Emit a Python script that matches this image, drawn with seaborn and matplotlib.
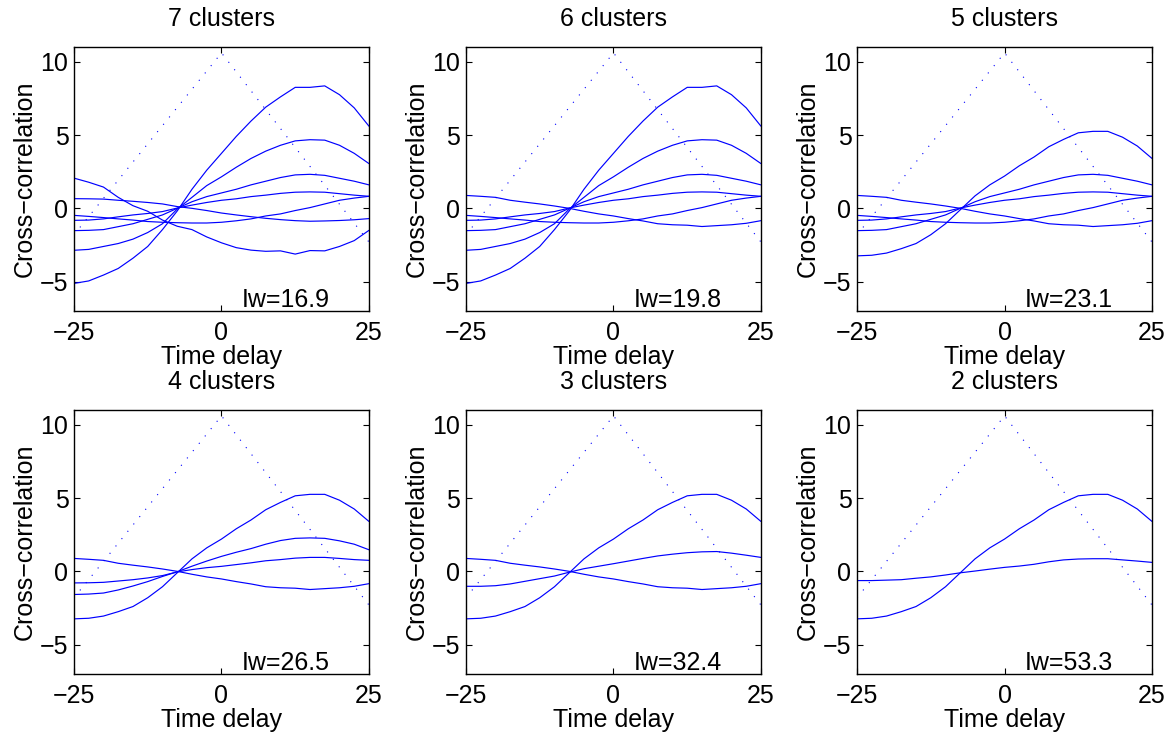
import matplotlib
matplotlib.use('Agg')
import numpy as np
import pandas as pd
import seaborn as sns
import matplotlib.pyplot as plt

# time delay grid shared by all curves
delay = [-25, -22.5, -20, -17.5, -15, -12.5, -10, -7.5, -5, -2.5, 0,
         2.5, 5, 7.5, 10, 12.5, 15, 17.5, 20, 22.5, 25]

# cluster mean cross-correlations
curve_a = [-5.12, -4.95, -4.55, -4.1, -3.4, -2.6, -1.45, -0.18, 1.3, 2.6, 3.75,
           4.9, 5.95, 6.9, 7.6, 8.25, 8.25, 8.35, 7.75, 6.85, 5.6]
curve_b = [-2.86, -2.8, -2.6, -2.4, -2.1, -1.65, -1.05, -0.05, 0.75, 1.55, 2.15,
           2.8, 3.4, 3.9, 4.3, 4.6, 4.68, 4.65, 4.3, 3.75, 3.05]
curve_c = [-1.52, -1.5, -1.45, -1.25, -1.05, -0.75, -0.45, 0.0, 0.45, 0.8, 1.05,
           1.3, 1.6, 1.85, 2.1, 2.28, 2.32, 2.25, 2.05, 1.85, 1.6]
curve_d = [-0.82, -0.8, -0.72, -0.58, -0.45, -0.35, -0.22, 0.02, 0.22, 0.4, 0.55,
           0.65, 0.8, 0.9, 1.02, 1.1, 1.12, 1.1, 1.0, 0.9, 0.82]
curve_e = [-0.48, -0.55, -0.63, -0.72, -0.8, -0.9, -0.95, -0.98, -1.0, -1.0, -0.95,
           -0.85, -0.72, -0.52, -0.38, -0.15, 0.05, 0.3, 0.55, 0.7, 0.82]
curve_f = [2.06, 1.78, 1.45, 0.75, 0.18, -0.2, -0.8, -1.22, -1.45, -1.95, -2.35,
           -2.68, -2.85, -2.93, -2.9, -3.12, -2.88, -2.9, -2.6, -2.2, -1.5]
curve_g7 = [0.66, 0.65, 0.63, 0.55, 0.48, 0.4, 0.3, 0.12, 0.0, -0.15, -0.32,
            -0.45, -0.57, -0.68, -0.77, -0.84, -0.88, -0.86, -0.83, -0.78, -0.7]
curve_g = [0.88, 0.82, 0.75, 0.55, 0.42, 0.3, 0.16, 0.0, -0.2, -0.38, -0.52,
           -0.7, -0.86, -1.05, -1.12, -1.15, -1.24, -1.18, -1.12, -1.02, -0.84]
curve_h = [-3.24, -3.2, -3.05, -2.75, -2.4, -1.8, -1.05, -0.1, 0.85, 1.6, 2.2,
           2.9, 3.5, 4.2, 4.7, 5.15, 5.25, 5.25, 4.85, 4.25, 3.4]
curve_c4 = [-1.58, -1.55, -1.48, -1.27, -1.0, -0.7, -0.35, -0.03, 0.35, 0.7, 1.02,
            1.3, 1.55, 1.85, 2.1, 2.25, 2.28, 2.25, 2.08, 1.85, 1.47]
curve_d4 = [-0.79, -0.78, -0.75, -0.66, -0.57, -0.45, -0.29, -0.04, 0.12, 0.25, 0.34,
            0.46, 0.58, 0.72, 0.8, 0.9, 0.95, 0.95, 0.88, 0.8, 0.75]
curve_i = [-1.02, -1.02, -0.98, -0.86, -0.68, -0.5, -0.32, -0.06, 0.18, 0.35, 0.52,
           0.7, 0.88, 1.05, 1.17, 1.27, 1.33, 1.35, 1.24, 1.1, 0.95]
curve_j = [-0.63, -0.63, -0.6, -0.57, -0.47, -0.38, -0.25, -0.1, 0.02, 0.15, 0.27,
           0.36, 0.48, 0.65, 0.78, 0.84, 0.86, 0.86, 0.78, 0.7, 0.61]

# dotted reference triangle
ref_x = [-25, 0, 25]
ref_y = [-1.8, 10.6, -2.3]

titles = ['7 clusters', '6 clusters', '5 clusters', '4 clusters', '3 clusters', '2 clusters']
iw_values = [16.9, 19.8, 23.1, 26.5, 32.4, 53.3]
panel_curves = [
    [curve_a, curve_b, curve_c, curve_d, curve_e, curve_f, curve_g7],
    [curve_a, curve_b, curve_c, curve_d, curve_e, curve_g],
    [curve_h, curve_c, curve_d, curve_e, curve_g],
    [curve_g, curve_h, curve_c4, curve_d4],
    [curve_g, curve_h, curve_i],
    [curve_h, curve_j],
]

sns.set_theme(style='ticks')
plt.rcParams['font.family'] = ['Liberation Sans', 'DejaVu Sans']
plt.rcParams['text.color'] = 'black'
plt.rcParams['axes.labelcolor'] = 'black'
fs = 18

fig = plt.figure(figsize=(11.74, 7.44), dpi=100)
lefts = [0.063, 0.3969, 0.730]
bottoms = [0.582, 0.0941]
w, h = 0.2513, 0.3548

for k in range(6):
    ax = fig.add_axes([lefts[k % 3], bottoms[k // 3], w, h])
    rows = []
    for j, c in enumerate(panel_curves[k]):
        rows += [(x, y, j) for x, y in zip(delay, c)]
    df = pd.DataFrame(rows, columns=['delay', 'xcorr', 'cluster'])
    ref = pd.DataFrame({'delay': ref_x, 'xcorr': ref_y})

    sns.lineplot(data=ref, x='delay', y='xcorr', ax=ax, color='blue',
                 lw=0.8, linestyle=(0, (1, 7.5)), legend=False)
    sns.lineplot(data=df, x='delay', y='xcorr', units='cluster', estimator=None,
                 ax=ax, color='blue', lw=0.85, legend=False)

    ax.set_xlim(-25, 25)
    ax.set_ylim(-7, 11)
    ax.set_xticks([-25, 0, 25])
    ax.set_yticks([-5, 0, 5, 10])
    ax.tick_params(direction='in', length=4, width=0.8, top=True, right=True,
                   labelsize=fs, colors='black')
    ax.tick_params(axis='x', pad=7.5)
    ax.tick_params(axis='y', pad=4)
    for s in ax.spines.values():
        s.set_linewidth(1.0)
        s.set_color('black')
    ax.set_xlabel('Time delay', fontsize=fs, labelpad=0, color='black')
    ax.set_ylabel('Cross\u2212correlation', fontsize=fs, labelpad=2, color='black')
    ax.set_title(titles[k], fontsize=fs, pad=15, color='black')
    ax.text(3.5, -6.7, 'Iw=%.1f' % iw_values[k], fontsize=fs, ha='left',
            va='baseline', color='black')

fig.savefig('out.png', dpi=100)
